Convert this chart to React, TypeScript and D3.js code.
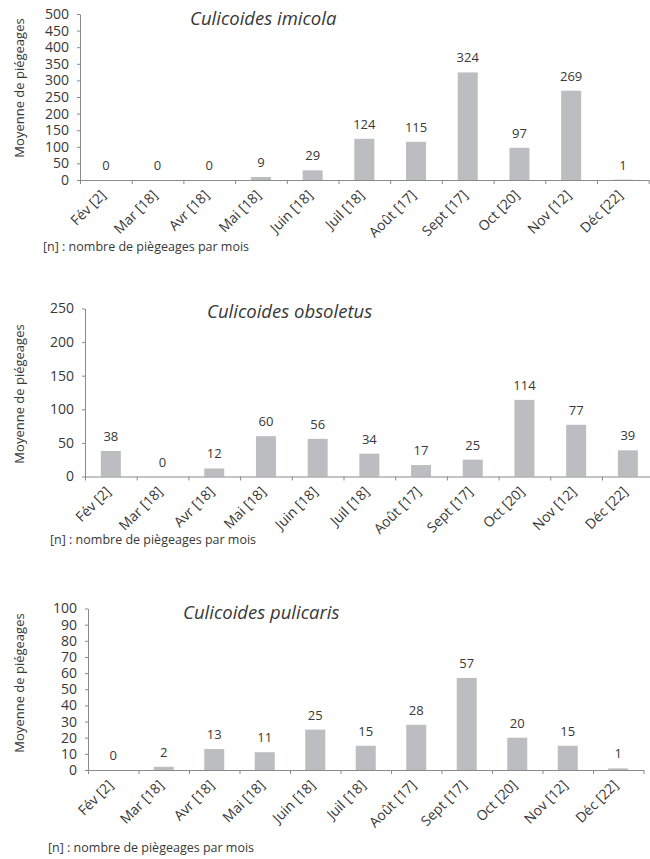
import { useEffect, useRef } from "react";
import * as d3 from "d3";

// Months with number of trappings [n]
const months = [
    "Fév [2]", "Mar [18]", "Avr [18]", "Mai [18]", "Juin [18]", "Juil [18]",
    "Août [17]", "Sept [17]", "Oct [20]", "Nov [12]", "Déc [22]",
];

const imicolaValues = [0, 0, 0, 9, 29, 124, 115, 324, 97, 269, 1];
const obsoletusValues = [38, 0, 12, 60, 56, 34, 17, 25, 114, 77, 39];
const pulicarisValues = [0, 2, 13, 11, 25, 15, 28, 57, 20, 15, 1];

const imicolaTicks = [0, 50, 100, 150, 200, 250, 300, 350, 400, 450, 500];
const obsoletusTicks = [0, 50, 100, 150, 200, 250];
const pulicarisTicks = [0, 10, 20, 30, 40, 50, 60, 70, 80, 90, 100];

const yTitle = "Moyenne de piégeages";
const footnote = "[n] : nombre de piègeages par mois";

const FONT = "'Open Sans', 'Noto Sans', sans-serif";
const TEXT = "#383838";
const AXIS = "#8a8a8a";
const BAR = "#bcbdc0";

interface Panel {
    title: string;
    values: number[];
    ticks: number[];
    left: number;     // y axis x
    top: number;      // y of top tick
    bottom: number;   // y of zero
    step: number;     // category width
    titleX: number;
    titleY: number;
    noteX: number;
    noteY: number;
    yTitleY: number;
}

const panels: Panel[] = [
    {
        title: "Culicoides imicola", values: imicolaValues, ticks: imicolaTicks,
        left: 80, top: 14, bottom: 180, step: 51.7,
        titleX: 190, titleY: 25, noteX: 43, noteY: 251, yTitleY: 88,
    },
    {
        title: "Culicoides obsoletus", values: obsoletusValues, ticks: obsoletusTicks,
        left: 85, top: 308.5, bottom: 476.5, step: 51.7,
        titleX: 207, titleY: 318, noteX: 50, noteY: 544, yTitleY: 394,
    },
    {
        title: "Culicoides pulicaris", values: pulicarisValues, ticks: pulicarisTicks,
        left: 88, top: 608.5, bottom: 770, step: 50.5,
        titleX: 183, titleY: 619, noteX: 48, noteY: 852, yTitleY: 683,
    },
];

function drawPanel(g: d3.Selection<SVGGElement, unknown, null, undefined>, p: Panel) {
    const n = months.length;
    const right = p.left + p.step * n;

    const x = d3.scaleBand<string>().domain(months).range([p.left, right]);
    const edges = d3.scaleLinear().domain([0, n]).range([p.left, right]);
    const y = d3.scaleLinear()
        .domain([0, d3.max(p.ticks) || 0])
        .range([p.bottom, p.top]);

    const barWidth = 20;

    // Y axis
    const yAxis = g.append("g")
        .attr("transform", `translate(${p.left},0)`)
        .call(d3.axisLeft(y).tickValues(p.ticks).tickSize(3).tickSizeOuter(0).tickPadding(8));
    yAxis.select(".domain").attr("stroke", AXIS);
    yAxis.selectAll(".tick line").attr("stroke", AXIS);
    yAxis.selectAll(".tick text")
        .attr("fill", TEXT)
        .style("font-family", FONT)
        .style("font-size", "14px");

    // Bars
    g.selectAll(".bar")
        .data(p.values)
        .enter()
        .append("rect")
        .attr("class", "bar")
        .attr("x", (_, i) => (x(months[i]) || 0) + (x.bandwidth() - barWidth) / 2)
        .attr("y", d => y(d))
        .attr("width", barWidth)
        .attr("height", d => Math.max(0, p.bottom - y(d)))
        .attr("fill", BAR);

    // Value labels
    g.selectAll(".val")
        .data(p.values)
        .enter()
        .append("text")
        .attr("class", "val")
        .attr("x", (_, i) => (x(months[i]) || 0) + x.bandwidth() / 2)
        .attr("y", d => y(d) - 10)
        .attr("text-anchor", "middle")
        .attr("fill", TEXT)
        .style("font-family", FONT)
        .style("font-size", "13px")
        .text(d => d);

    // X axis with ticks on category edges
    const xAxis = g.append("g")
        .attr("transform", `translate(0,${p.bottom})`)
        .call(d3.axisBottom(edges)
            .tickValues(d3.range(n + 1))
            .tickSize(4)
            .tickSizeOuter(0)
            .tickFormat(() => ""));
    xAxis.select(".domain").attr("stroke", AXIS);
    xAxis.selectAll(".tick line").attr("stroke", AXIS);

    // Rotated month labels
    g.selectAll(".month")
        .data(months)
        .enter()
        .append("text")
        .attr("class", "month")
        .attr("transform", d => `translate(${(x(d) || 0) + x.bandwidth() / 2 + 1},${p.bottom + 16}) rotate(-45)`)
        .attr("text-anchor", "end")
        .attr("fill", TEXT)
        .style("font-family", FONT)
        .style("font-size", "14px")
        .text(d => d);

    // Title
    g.append("text")
        .attr("x", p.titleX)
        .attr("y", p.titleY)
        .attr("fill", TEXT)
        .style("font-family", FONT)
        .style("font-style", "italic")
        .style("font-size", "18.5px")
        .text(p.title);

    // Y axis title
    g.append("text")
        .attr("transform", `translate(19,${p.yTitleY}) rotate(-90)`)
        .attr("text-anchor", "middle")
        .attr("dominant-baseline", "central")
        .attr("fill", TEXT)
        .style("font-family", FONT)
        .style("font-size", "13px")
        .text(yTitle);

    // Footnote
    g.append("text")
        .attr("x", p.noteX)
        .attr("y", p.noteY)
        .attr("fill", TEXT)
        .style("font-family", FONT)
        .style("font-size", "12.5px")
        .text(footnote);
}

export default function App() {
    const svgRef = useRef<SVGSVGElement | null>(null);

    useEffect(() => {
        const svg = d3.select(svgRef.current);
        svg.selectAll("*").remove();
        panels.forEach(p => drawPanel(svg.append("g"), p));
        return () => {
            svg.selectAll("*").remove();
        };
    }, []);

    return (
        <svg
            ref={svgRef}
            width={650}
            height={859}
            style={{ position: "absolute", left: 0, top: 0, background: "#fff" }}
        />
    );
}
